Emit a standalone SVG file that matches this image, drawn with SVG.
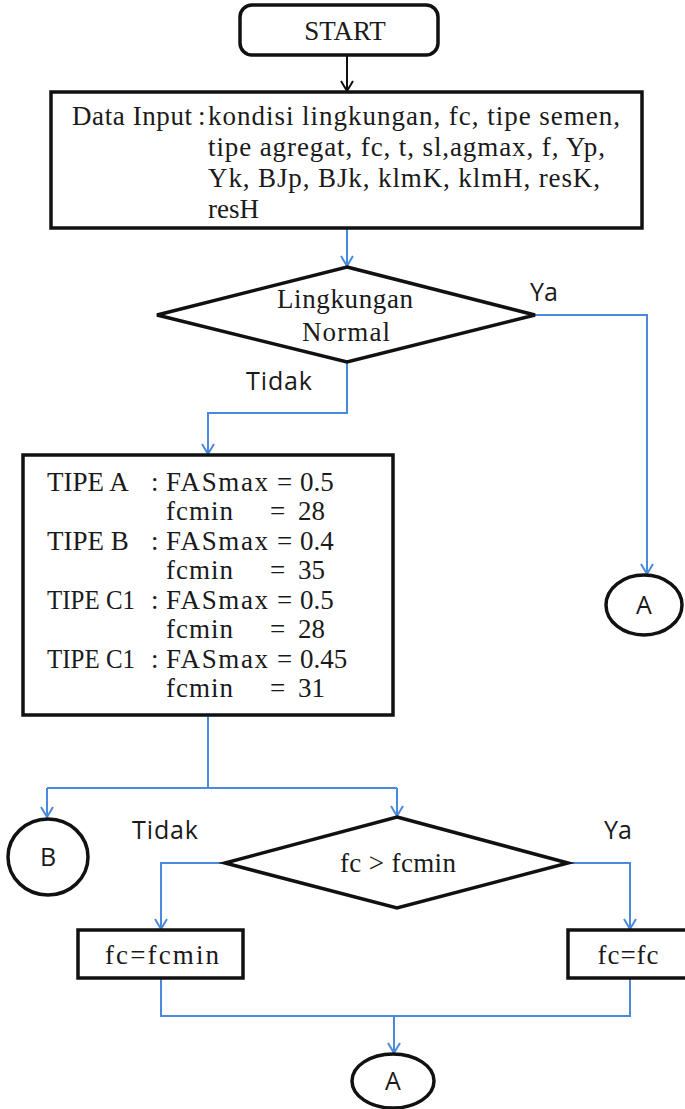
<svg xmlns="http://www.w3.org/2000/svg" width="685" height="1109" viewBox="0 0 685 1109">
<style>
.shape{fill:#fff;stroke:#111;stroke-width:3.5}
.conn{fill:none;stroke:#4a89dc;stroke-width:2}
.serif{font-family:"Liberation Serif","Times New Roman",serif;font-size:27px;fill:#1a1a1a}
.sans{font-family:"Open Sans","Noto Sans",sans-serif;font-size:25px;fill:#1a1a1a}
</style>
<defs>
<marker id="ab" viewBox="0 0 12 14" refX="11" refY="7" markerWidth="12" markerHeight="14" markerUnits="userSpaceOnUse" orient="auto">
<path d="M1,1 L11,7 L1,13" fill="none" stroke="#4a89dc" stroke-width="2"/>
</marker>
<marker id="ak" viewBox="0 0 12 14" refX="11" refY="7" markerWidth="12" markerHeight="14" markerUnits="userSpaceOnUse" orient="auto">
<path d="M1,1 L11,7 L1,13" fill="none" stroke="#111" stroke-width="2"/>
</marker>
</defs>
<g id="connectors">
<path d="M347,55 V91" fill="none" stroke="#111" stroke-width="2" marker-end="url(#ak)"/>
<path class="conn" d="M347,229 V266" marker-end="url(#ab)"/>
<path class="conn" d="M535,315 H647 V574" marker-end="url(#ab)"/>
<path class="conn" d="M347,362 V413 H208 V454" marker-end="url(#ab)"/>
<path class="conn" d="M208,716 V788"/>
<path class="conn" d="M47,788 H397"/>
<path class="conn" d="M47,788 V817" marker-end="url(#ab)"/>
<path class="conn" d="M397,788 V816" marker-end="url(#ab)"/>
<path class="conn" d="M225,863 H161 V929" marker-end="url(#ab)"/>
<path class="conn" d="M568,863 H630 V929" marker-end="url(#ab)"/>
<path class="conn" d="M161,979 V1016 H630 V979"/>
<path class="conn" d="M394,1016 V1053" marker-end="url(#ab)"/>
</g>
<g id="start">
<rect class="shape" x="240" y="5" width="198" height="50" rx="12"/>
<text class="serif" x="345" y="40" text-anchor="middle">START</text>
</g>
<g id="data-input">
<rect class="shape" x="51" y="92" width="591" height="136"/>
<text class="serif" x="72" y="125" textLength="120" lengthAdjust="spacing">Data Input</text>
<text class="serif" x="198" y="125">:</text>
<text class="serif" x="208" y="125" textLength="412" lengthAdjust="spacing">kondisi lingkungan, fc, tipe semen,</text>
<text class="serif" x="208" y="156" textLength="397" lengthAdjust="spacing">tipe agregat, fc, t, sl,agmax, f, Yp,</text>
<text class="serif" x="208" y="187" textLength="392" lengthAdjust="spacing">Yk, BJp, BJk, klmK, klmH, resK,</text>
<text class="serif" x="208" y="218">resH</text>
</g>
<g id="decision-lingkungan">
<polygon class="shape" points="347,267 535,315 347,362 157,315"/>
<text class="serif" x="345" y="308" text-anchor="middle" textLength="136" lengthAdjust="spacing">Lingkungan</text>
<text class="serif" x="346" y="341" text-anchor="middle" textLength="88" lengthAdjust="spacing">Normal</text>
</g>
<g id="label-ya-1"><text class="sans" x="530" y="301">Ya</text></g>
<g id="label-tidak-1"><text class="sans" x="246" y="390" textLength="66" lengthAdjust="spacing">Tidak</text></g>
<g id="tipe-table">
<rect class="shape" x="23" y="455" width="370" height="260"/>
<g class="serif">
<text x="47" y="491">TIPE A</text>
<text x="47" y="550">TIPE B</text>
<text x="47" y="609" textLength="88" lengthAdjust="spacingAndGlyphs">TIPE C1</text>
<text x="47" y="668" textLength="88" lengthAdjust="spacingAndGlyphs">TIPE C1</text>
<text x="151" y="491">:</text>
<text x="151" y="550">:</text>
<text x="151" y="609">:</text>
<text x="151" y="668">:</text>
<text x="166" y="491" textLength="102" lengthAdjust="spacing">FASmax</text>
<text x="166" y="550" textLength="102" lengthAdjust="spacing">FASmax</text>
<text x="166" y="609" textLength="102" lengthAdjust="spacing">FASmax</text>
<text x="166" y="668" textLength="102" lengthAdjust="spacing">FASmax</text>
<text x="277" y="491">=</text>
<text x="277" y="550">=</text>
<text x="277" y="609">=</text>
<text x="277" y="668">=</text>
<text x="300" y="491">0.5</text>
<text x="300" y="550">0.4</text>
<text x="300" y="609">0.5</text>
<text x="300" y="668">0.45</text>
<text x="166" y="520" textLength="67" lengthAdjust="spacing">fcmin</text>
<text x="166" y="579" textLength="67" lengthAdjust="spacing">fcmin</text>
<text x="166" y="638" textLength="67" lengthAdjust="spacing">fcmin</text>
<text x="166" y="697" textLength="67" lengthAdjust="spacing">fcmin</text>
<text x="270" y="520">=</text>
<text x="270" y="579">=</text>
<text x="270" y="638">=</text>
<text x="270" y="697">=</text>
<text x="298" y="520">28</text>
<text x="298" y="579">35</text>
<text x="298" y="638">28</text>
<text x="298" y="697">31</text>
</g>
</g>
<g id="connector-a-right">
<ellipse class="shape" cx="644" cy="605" rx="38" ry="30"/>
<text class="sans" x="644" y="614" text-anchor="middle">A</text>
</g>
<g id="connector-b">
<ellipse class="shape" cx="48" cy="857" rx="40" ry="38"/>
<text class="sans" x="48" y="866" text-anchor="middle">B</text>
</g>
<g id="decision-fc">
<polygon class="shape" points="397,817 568,863 397,908 225,863"/>
<text class="serif" x="398" y="872" text-anchor="middle" textLength="116" lengthAdjust="spacing">fc &gt; fcmin</text>
</g>
<g id="label-tidak-2"><text class="sans" x="132" y="839" textLength="66" lengthAdjust="spacing">Tidak</text></g>
<g id="label-ya-2"><text class="sans" x="604" y="839">Ya</text></g>
<g id="fc-fcmin">
<rect class="shape" x="78" y="930" width="165" height="48"/>
<text class="serif" x="162" y="964" text-anchor="middle" textLength="114" lengthAdjust="spacing">fc=fcmin</text>
</g>
<g id="fc-fc">
<rect class="shape" x="568" y="930" width="122" height="48"/>
<text class="serif" x="628" y="964" text-anchor="middle" textLength="61" lengthAdjust="spacing">fc=fc</text>
</g>
<g id="connector-a-bottom">
<ellipse class="shape" cx="393" cy="1081" rx="41" ry="27"/>
<text class="sans" x="393" y="1090" text-anchor="middle">A</text>
</g>
</svg>
